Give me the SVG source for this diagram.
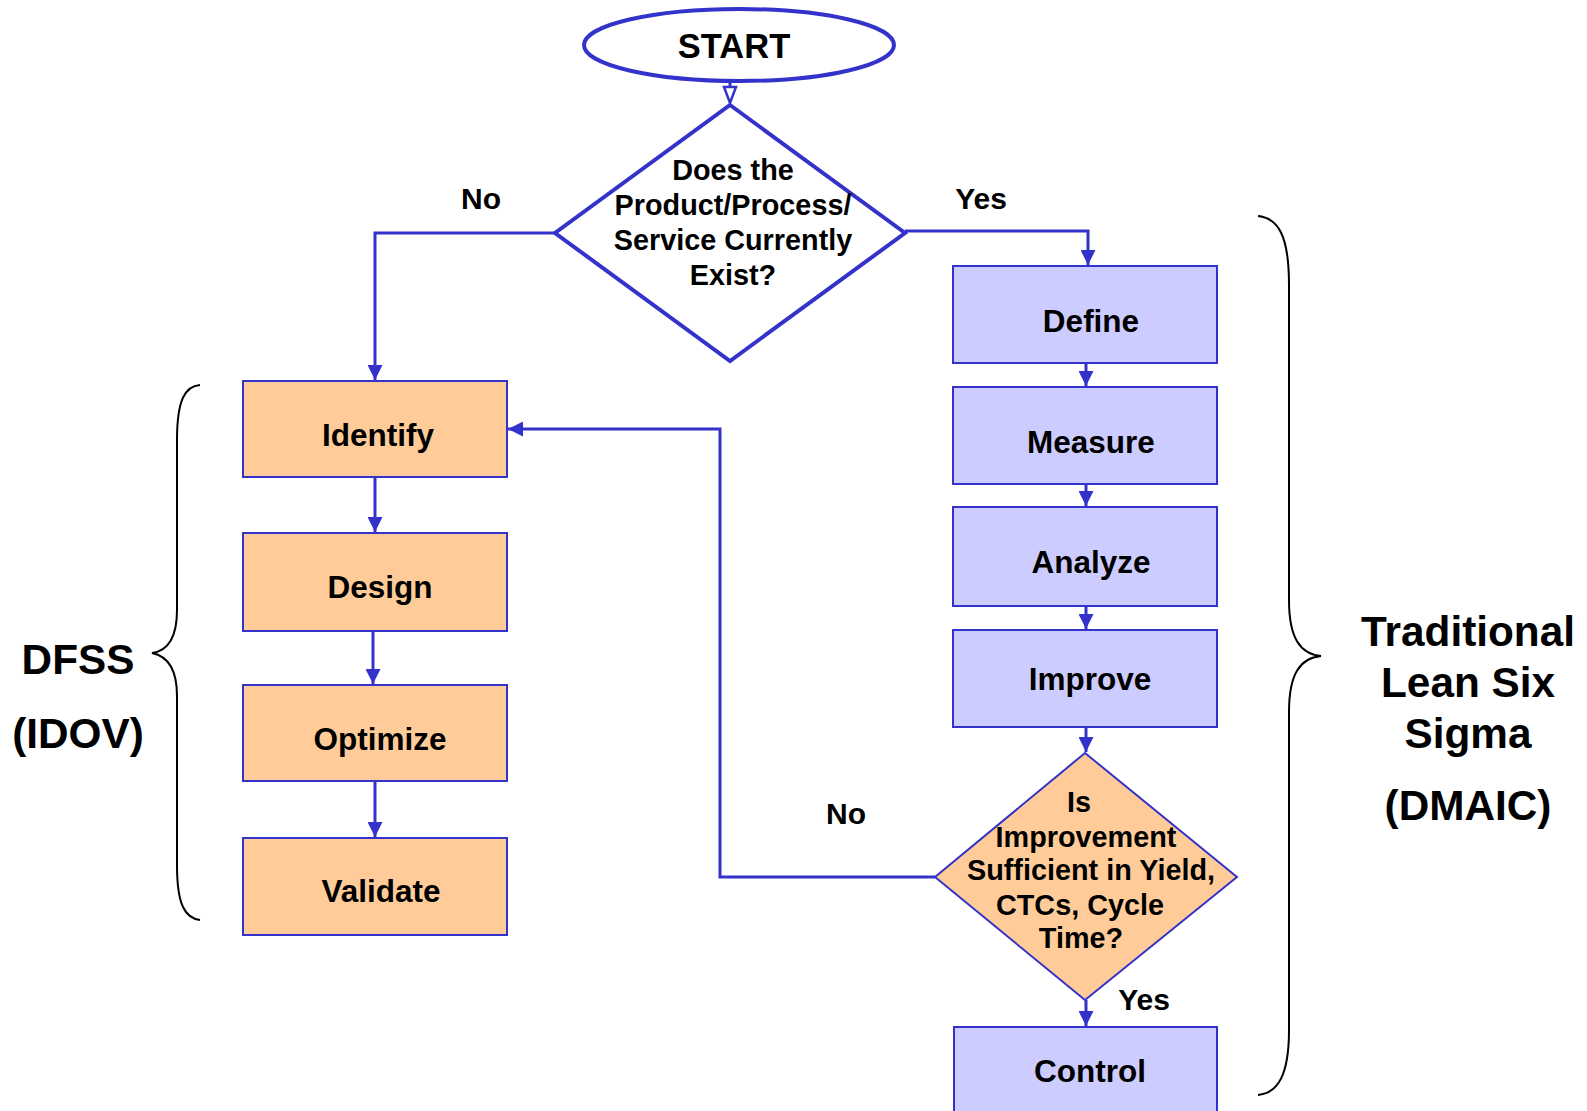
<svg xmlns="http://www.w3.org/2000/svg" width="1587" height="1111" viewBox="0 0 1587 1111">
  <defs>
    <style>
      .lbl { font-family: "Liberation Sans", Arial, sans-serif; font-weight: bold; fill: #000; text-anchor: middle; }
      .box-o { fill: #FFCC99; stroke: #3333CC; stroke-width: 2; }
      .box-b { fill: #CCCCFF; stroke: #3333CC; stroke-width: 2; }
      .conn { fill: none; stroke: #3333CC; stroke-width: 3; }
      .brace { fill: none; stroke: #000; stroke-width: 2; }
      .box-txt { font-size: 31.5px; }
      .dia-txt { font-size: 28.8px; }
      .yn { font-size: 30px; }
      .side { font-size: 42.3px; }
    </style>
    <marker id="arrow" viewBox="0 0 10 10" refX="10" refY="5" markerWidth="5" markerHeight="5" markerUnits="strokeWidth" orient="auto">
      <path d="M0,0 L10,5 L0,10 z" fill="#3333CC"/>
    </marker>
  </defs>
  <rect width="1587" height="1111" fill="#fff"/>

  <!-- connectors -->
  <g id="connectors">
    <line x1="730" y1="81" x2="730" y2="88" class="conn" stroke-width="2.5"/>
    <path d="M724,87 L736,87 L730,103 z" fill="#fff" stroke="#3333CC" stroke-width="2.5"/>
    <polyline class="conn" points="555,233 375,233 375,380" marker-end="url(#arrow)"/>
    <polyline class="conn" points="905,231 1088,231 1088,265" marker-end="url(#arrow)"/>
    <line class="conn" x1="375" y1="477" x2="375" y2="532" marker-end="url(#arrow)"/>
    <line class="conn" x1="373" y1="631" x2="373" y2="684" marker-end="url(#arrow)"/>
    <line class="conn" x1="375" y1="781" x2="375" y2="837" marker-end="url(#arrow)"/>
    <line class="conn" x1="1086" y1="363" x2="1086" y2="386" marker-end="url(#arrow)"/>
    <line class="conn" x1="1086" y1="484" x2="1086" y2="506" marker-end="url(#arrow)"/>
    <line class="conn" x1="1086" y1="606" x2="1086" y2="629" marker-end="url(#arrow)"/>
    <line class="conn" x1="1086" y1="727" x2="1086" y2="752" marker-end="url(#arrow)"/>
    <line class="conn" x1="1086" y1="1000" x2="1086" y2="1026" marker-end="url(#arrow)"/>
    <polyline class="conn" points="935,877 720,877 720,429 508,429" marker-end="url(#arrow)"/>
  </g>

  <!-- branch labels -->
  <g id="labels">
    <text class="lbl yn" x="481" y="209">No</text>
    <text class="lbl yn" x="981" y="209">Yes</text>
    <text class="lbl yn" x="846" y="824">No</text>
    <text class="lbl yn" x="1144" y="1010">Yes</text>
  </g>

  <g id="start">
    <ellipse cx="739" cy="45" rx="155" ry="36" fill="#fff" stroke="#3333CC" stroke-width="4"/>
    <text class="lbl" x="734" y="58" font-size="34.5">START</text>
  </g>

  <g id="decision-exists">
    <polygon points="730,105 905,233 730,361 555,233" fill="#fff" stroke="#3333CC" stroke-width="4"/>
    <text class="lbl dia-txt" x="733" y="180">Does the</text>
    <text class="lbl dia-txt" x="733" y="215">Product/Process/</text>
    <text class="lbl dia-txt" x="733" y="250">Service Currently</text>
    <text class="lbl dia-txt" x="733" y="285">Exist?</text>
  </g>

  <!-- DFSS column -->
  <g id="identify">
    <rect class="box-o" x="243" y="381" width="264" height="96"/>
    <text class="lbl box-txt" x="378" y="446">Identify</text>
  </g>
  <g id="design">
    <rect class="box-o" x="243" y="533" width="264" height="98"/>
    <text class="lbl box-txt" x="380" y="598">Design</text>
  </g>
  <g id="optimize">
    <rect class="box-o" x="243" y="685" width="264" height="96"/>
    <text class="lbl box-txt" x="380" y="750">Optimize</text>
  </g>
  <g id="validate">
    <rect class="box-o" x="243" y="838" width="264" height="97"/>
    <text class="lbl box-txt" x="381" y="902">Validate</text>
  </g>

  <!-- DMAIC column -->
  <g id="define">
    <rect class="box-b" x="953" y="266" width="264" height="97"/>
    <text class="lbl box-txt" x="1091" y="332">Define</text>
  </g>
  <g id="measure">
    <rect class="box-b" x="953" y="387" width="264" height="97"/>
    <text class="lbl box-txt" x="1091" y="453">Measure</text>
  </g>
  <g id="analyze">
    <rect class="box-b" x="953" y="507" width="264" height="99"/>
    <text class="lbl box-txt" x="1091" y="573">Analyze</text>
  </g>
  <g id="improve">
    <rect class="box-b" x="953" y="630" width="264" height="97"/>
    <text class="lbl box-txt" x="1090" y="690">Improve</text>
  </g>

  <g id="decision-sufficient">
    <polygon points="1085,753 1237,877 1085,1000 935,877" fill="#FFCC99" stroke="#3333CC" stroke-width="2"/>
    <text class="lbl dia-txt" x="1079" y="812">Is</text>
    <text class="lbl dia-txt" x="1086" y="847">Improvement</text>
    <text class="lbl dia-txt" x="1091" y="880">Sufficient in Yield,</text>
    <text class="lbl dia-txt" x="1080" y="915">CTCs, Cycle</text>
    <text class="lbl dia-txt" x="1081" y="948">Time?</text>
  </g>

  <g id="control">
    <rect class="box-b" x="954" y="1027" width="263" height="100"/>
    <text class="lbl box-txt" x="1090" y="1082">Control</text>
  </g>

  <!-- group braces -->
  <g id="dfss-brace">
    <path class="brace" d="M200,385 C185,386 177,400 177,440 L177,610 C177,638 167,651 152,653 C167,656 177,668 177,696 L177,865 C177,905 185,918 200,920"/>
    <text class="lbl side" x="78" y="674">DFSS</text>
    <text class="lbl side" x="78" y="748">(IDOV)</text>
  </g>
  <g id="dmaic-brace">
    <path class="brace" d="M1258,216 C1278,218 1289,235 1289,285 L1289,600 C1289,638 1300,654 1321,656 C1300,658 1289,674 1289,712 L1289,1030 C1289,1075 1278,1093 1258,1095"/>
    <text class="lbl side" x="1468" y="646">Traditional</text>
    <text class="lbl side" x="1468" y="697">Lean Six</text>
    <text class="lbl side" x="1468" y="748">Sigma</text>
    <text class="lbl side" x="1468" y="820">(DMAIC)</text>
  </g>
</svg>
